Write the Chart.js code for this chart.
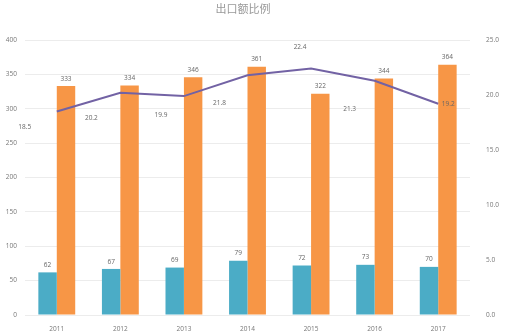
<!DOCTYPE html>
<html>
<head>
<meta charset="utf-8">
<title>出口额比例</title>
<script src="https://cdn.jsdelivr.net/npm/chart.js@4/dist/chart.umd.min.js"></script>
<style>
  html, body { margin: 0; padding: 0; background: #fff; }
  #wrap { width: 506px; height: 334px; }
</style>
</head>
<body>
<div id="wrap"><canvas id="chart"></canvas></div>
<script>
// Data
const years = ["2011", "2012", "2013", "2014", "2015", "2016", "2017"];
const exportValue = [62, 67, 69, 79, 72, 73, 70];
const totalValue = [333, 334, 346, 361, 322, 344, 364];
const exportRatio = [18.5, 20.2, 19.9, 21.8, 22.4, 21.3, 19.2];
const chartTitle = "出口额比例";

const FONT = "'Open Sans', 'Noto Sans CJK SC', sans-serif";
const TEXT = "#777";

// where each ratio label sits relative to its point
const ratioLabelShift = [
  [-32, 16], [-29, 25], [-23, 19], [-28, 28], [-11, -21], [-25, 28], [10, 0],
];

// title, sitting a little left of the canvas centre
const titleText = {
  id: "titleText",
  afterDraw(chart) {
    const ctx = chart.ctx;
    ctx.save();
    ctx.font = "11px " + FONT;
    ctx.fillStyle = "#999";
    ctx.textAlign = "center";
    ctx.textBaseline = "middle";
    ctx.fillText(chartTitle, 243, 10);
    ctx.restore();
  },
};

// draws the numbers above bars and next to line points
const valueLabels = {
  id: "valueLabels",
  afterDatasetsDraw(chart) {
    const ctx = chart.ctx;
    ctx.save();
    ctx.font = "6.5px " + FONT;
    ctx.fillStyle = "#666";
    ctx.textAlign = "center";
    chart.data.datasets.forEach((ds, di) => {
      const meta = chart.getDatasetMeta(di);
      meta.data.forEach((el, i) => {
        const v = ds.data[i];
        if (ds.type === "line") {
          const s = ratioLabelShift[i];
          ctx.textBaseline = "middle";
          ctx.fillText(v.toFixed(1), el.x + s[0], el.y + s[1]);
        } else {
          ctx.textBaseline = "bottom";
          ctx.fillText(String(v), el.x, el.y - 4);
        }
      });
    });
    ctx.restore();
  },
};

new Chart(document.getElementById("chart"), {
  data: {
    labels: years,
    datasets: [
      {
        type: "line",
        label: "出口比例",
        data: exportRatio,
        yAxisID: "y1",
        borderColor: "#7262a4",
        borderWidth: 2,
        pointRadius: 0,
        tension: 0,
        order: 0,
      },
      {
        type: "bar",
        label: "出口额",
        data: exportValue,
        yAxisID: "y",
        backgroundColor: "#4bacc6",
        order: 1,
      },
      {
        type: "bar",
        label: "总额",
        data: totalValue,
        yAxisID: "y",
        backgroundColor: "#f79646",
        order: 1,
      },
    ],
  },
  options: {
    responsive: true,
    maintainAspectRatio: false,
    animation: false,
    categoryPercentage: 0.58,
    barPercentage: 1,
    layout: { padding: { top: 40, left: 0, right: 0, bottom: 0 } },
    plugins: {
      legend: { display: false },
      tooltip: { enabled: false },
      title: { display: false },
    },
    scales: {
      x: {
        grid: { display: false },
        border: { display: false },
        ticks: { color: TEXT, font: { family: FONT, size: 6.5 }, padding: 2 },
        afterFit: (s) => { s.height = 19; },
      },
      y: {
        position: "left",
        min: 0,
        max: 400,
        grid: { color: "#ececec", drawTicks: false },
        border: { display: false },
        ticks: { stepSize: 50, color: TEXT, font: { family: FONT, size: 6.5 }, padding: 8 },
        afterFit: (s) => { s.width = 25; },
      },
      y1: {
        position: "right",
        min: 0,
        max: 25,
        grid: { display: false },
        border: { display: false },
        ticks: {
          stepSize: 5,
          color: TEXT,
          font: { family: FONT, size: 6.5 },
          padding: 8,
          callback: (v) => v.toFixed(1),
        },
        afterFit: (s) => { s.width = 36; },
      },
    },
  },
  plugins: [valueLabels, titleText],
});
</script>
</body>
</html>
